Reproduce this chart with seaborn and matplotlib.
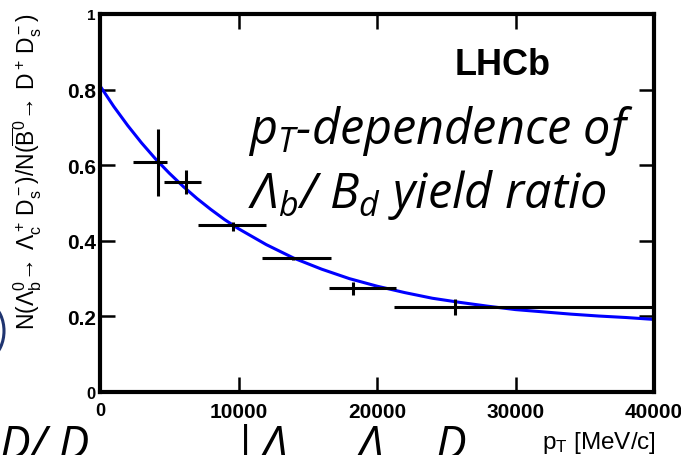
import numpy as np
import pandas as pd
import matplotlib
matplotlib.use('Agg')
import matplotlib.pyplot as plt
from matplotlib.patches import Arc
import seaborn as sns

# ---- data ----
pt_center = [4170, 6200, 9600, 13900, 18300, 25600]
pt_low = [2400, 4600, 7050, 11700, 16500, 21200]
pt_high = [4840, 7270, 11950, 16700, 21400, 50000]
ratio = [0.609, 0.556, 0.442, 0.354, 0.275, 0.224]
ratio_err_lo = [0.091, 0.032, 0.015, 0.004, 0.018, 0.020]
ratio_err_hi = [0.087, 0.032, 0.008, 0.004, 0.017, 0.022]

fit_pt = [0, 1000, 2000, 3000, 4000, 5000, 6000, 7000, 8000, 9000, 10000,
          12000, 14000, 16000, 18000, 20000, 22000, 24000, 26000, 28000,
          30000, 32000, 34000, 36000, 38000, 40000]
fit_ratio = [0.810, 0.755, 0.705, 0.659, 0.617, 0.579, 0.544, 0.512, 0.483,
             0.456, 0.432, 0.390, 0.354, 0.325, 0.300, 0.280, 0.263, 0.248,
             0.237, 0.227, 0.218, 0.212, 0.206, 0.201, 0.197, 0.192]

xticks = [0, 10000, 20000, 30000, 40000]
xticklabels = ['0', '10000', '20000', '30000', '40000']
yticks = [0, 0.2, 0.4, 0.6, 0.8, 1.0]
yticklabels = ['0', '0.2', '0.4', '0.6', '0.8', '1']

# ---- style ----
sns.set_theme(style='ticks')
plt.rcParams['font.family'] = ['Liberation Sans', 'DejaVu Sans']
plt.rcParams['text.color'] = 'black'
plt.rcParams['axes.labelcolor'] = 'black'
plt.rcParams['xtick.color'] = 'black'
plt.rcParams['ytick.color'] = 'black'
plt.rcParams['mathtext.fontset'] = 'custom'
plt.rcParams['mathtext.rm'] = 'Liberation Sans'
plt.rcParams['mathtext.it'] = 'Open Sans:italic'
plt.rcParams['mathtext.bf'] = 'Liberation Sans:bold'

W, H = 681, 456
fig = plt.figure(figsize=(W / 100, H / 100), dpi=100)
ax = fig.add_axes([100 / W, 1 - 393 / H, 554 / W, 378 / H])

df_fit = pd.DataFrame({'pt': fit_pt, 'ratio': fit_ratio})
sns.lineplot(data=df_fit, x='pt', y='ratio', color='#0000ff', lw=2.2,
             ax=ax, zorder=2)

xc = np.array(pt_center)
xerr = [xc - np.array(pt_low), np.array(pt_high) - xc]
yerr = [ratio_err_lo, ratio_err_hi]
ax.errorbar(pt_center, ratio, xerr=xerr, yerr=yerr, fmt='none',
            ecolor='black', elinewidth=2.2, capsize=0, zorder=3)

ax.set_xlim(0, 40000)
ax.set_ylim(0, 1)
ax.set_xticks(xticks)
ax.set_xticklabels(xticklabels)
ax.set_yticks(yticks)
ax.set_yticklabels(yticklabels)
ax.set_xlabel('')
ax.set_ylabel('')
ax.tick_params(direction='in', length=11, width=1.8, top=True, right=True,
               labelsize=15, colors='black')
ax.tick_params(axis='y', pad=3)
ax.tick_params(axis='x', pad=7)
for lab in ax.get_xticklabels() + ax.get_yticklabels():
    lab.set_fontweight('bold')
ax.get_yticklabels()[0].set_fontsize(12)
ax.get_yticklabels()[-1].set_fontsize(11)
ax.get_xticklabels()[0].set_fontsize(13)
for s in ax.spines.values():
    s.set_linewidth(3)
    s.set_color('black')
ax.grid(False)

# y label (rotated)
fig.text(27 / W, 1 - 172 / H,
         r'$\mathrm{N(\Lambda_b^0\!\rightarrow\,\Lambda_c^+\,D_s^-)/N(\overline{B}^0\!\rightarrow\,D^+\,D_s^-)}$',
         rotation=90, ha='center', va='center', fontsize=16.5)

# x label
fig.text(656 / W, 1 - 449 / H, r'p$_\mathrm{T}$ [MeV/c]', ha='right',
         va='baseline', fontsize=17.5)

# LHCb tag
fig.text(455 / W, 1 - 75 / H, 'LHCb', fontweight='bold', fontsize=26,
         ha='left', va='baseline')

# slide annotation
fig.text(248 / W, 1 - 144 / H, r'p${}_T$-dependence of', fontfamily='Open Sans',
         style='italic', fontsize=35, ha='left', va='baseline')
fig.text(248 / W, 1 - 208 / H, r'Λ${}_b$/ B${}_d$ yield ratio', fontfamily='Open Sans',
         style='italic', fontsize=35, ha='left', va='baseline')

# partially visible slide text at bottom / left edges
for xpix, s in [(0, 'D/ D'), (232, '|'), (262, 'Λ'), (358, 'Λ'), (435, 'D')]:
    fig.text(xpix / W, -3 / H, s, fontfamily='Open Sans', style='italic',
             fontsize=33, ha='left', va='baseline', color='black')
fig.patches.append(Arc((-18, H - 332), 44, 60, theta1=-70, theta2=70,
                       transform=None, color='#1f3470', lw=2.2, figure=fig))

fig.savefig('out.png', dpi=100)
